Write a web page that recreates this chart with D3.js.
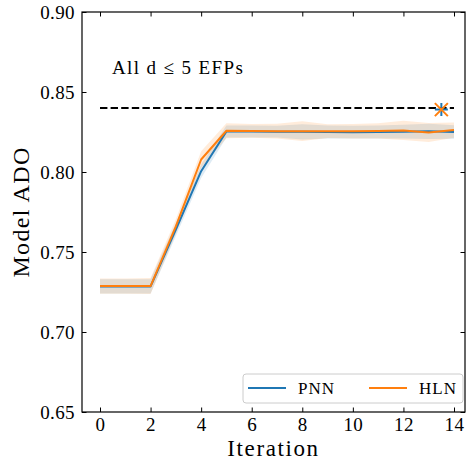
<!DOCTYPE html>
<html>
<head>
<meta charset="utf-8">
<script src="https://cdn.jsdelivr.net/npm/d3@7"></script>
<style>
  html, body { margin: 0; padding: 0; background: #fff; }
  svg { display: block; }
  svg text { font-family: "Liberation Serif", serif; fill: #000; }
</style>
</head>
<body>
<svg id="chart" width="468" height="461"></svg>
<script>
// ---- data ----
const iterations = [0,1,2,3,4,5,6,7,8,9,10,11,12,13,14];
const pnnMean = [0.7285,0.7285,0.7285,0.7640,0.8005,0.8253,0.8253,0.8252,0.8251,0.8250,0.8249,0.8250,0.8252,0.8254,0.8250];
const pnnStd  = [0.0045,0.0045,0.0045,0.0040,0.0042,0.0038,0.0037,0.0037,0.0048,0.0040,0.0040,0.0040,0.0043,0.0048,0.0042];
const hlnMean = [0.7287,0.7287,0.7287,0.7660,0.8078,0.8258,0.8257,0.8255,0.8255,0.8255,0.8255,0.8257,0.8260,0.8247,0.8262];
const hlnStd  = [0.0048,0.0048,0.0050,0.0045,0.0052,0.0047,0.0043,0.0046,0.0062,0.0043,0.0045,0.0048,0.0060,0.0060,0.0048];
const seriesNames = ["PNN", "HLN"];
const seriesColors = ["#1f77b4", "#ff7f0e"];
const refValue = 0.84;
const refRange = [0, 14];
const bestPoint = { x: 13.5, y: 0.839 };
const xTicks = [0,2,4,6,8,10,12,14];
const yTicks = [0.65,0.70,0.75,0.80,0.85,0.90];
const annotation = "All d \u2264 5 EFPs";
const xLabel = "Iteration";
const yLabel = "Model ADO";

// ---- layout ----
const L = 82, R = 465, T = 12, B = 412;
const FONT = "'Liberation Serif', serif";
const svg = d3.select("#chart");
const x = d3.scaleLinear().domain([-0.712, 14.435]).range([L, R]);
const y = d3.scaleLinear().domain([0.65, 0.90]).range([B, T]);

const series = [
  { name: seriesNames[0], color: seriesColors[0], mean: pnnMean, std: pnnStd },
  { name: seriesNames[1], color: seriesColors[1], mean: hlnMean, std: hlnStd }
];

const g = svg.append("g");
const area = d3.area()
  .x((d, i) => x(iterations[i]))
  .y0(d => y(d[0] - d[1]))
  .y1(d => y(d[0] + d[1]));
const line = d3.line()
  .x((d, i) => x(iterations[i]))
  .y(d => y(d));

series.forEach(s => {
  const pts = s.mean.map((m, i) => [m, s.std[i]]);
  g.append("path").attr("d", area(pts))
    .attr("fill", s.color).attr("fill-opacity", 0.15).attr("stroke", "none");
});
series.forEach(s => {
  g.append("path").attr("d", line(s.mean))
    .attr("fill", "none").attr("stroke", s.color).attr("stroke-width", 2)
    .attr("stroke-linejoin", "round");
});

// reference dashed line
g.append("line")
  .attr("x1", x(refRange[0])).attr("x2", x(refRange[1]))
  .attr("y1", y(refValue)).attr("y2", y(refValue))
  .attr("stroke", "#000").attr("stroke-width", 2)
  .attr("stroke-dasharray", "7.4,3.2");

// markers: blue plus, orange x
const bx = x(bestPoint.x), by = y(bestPoint.y);
const pr = 6.5;
g.append("path")
  .attr("d", `M${bx - pr},${by}H${bx + pr}M${bx},${by - pr}V${by + pr}`)
  .attr("stroke", seriesColors[0]).attr("stroke-width", 2).attr("fill", "none");
const xr = 6.5;
g.append("path")
  .attr("d", `M${bx - xr},${by - xr}L${bx + xr},${by + xr}M${bx - xr},${by + xr}L${bx + xr},${by - xr}`)
  .attr("stroke", seriesColors[1]).attr("stroke-width", 2).attr("fill", "none");

// annotation
svg.append("text")
  .attr("x", x(0.47)).attr("y", y(0.861))
  .attr("font-family", FONT)
  .attr("font-size", 19).attr("letter-spacing", 1.4)
  .text(annotation);

// axes (ticks inward on all sides)
const tl = 4.5;
const axG = svg.append("g");
axG.append("g").attr("transform", `translate(0,${B})`)
  .call(d3.axisBottom(x).tickValues(xTicks).tickSizeInner(-tl).tickSizeOuter(0).tickPadding(5.5).tickFormat(d3.format("d")));
axG.append("g").attr("transform", `translate(0,${T})`)
  .call(d3.axisTop(x).tickValues(xTicks).tickSizeInner(-tl).tickSizeOuter(0).tickFormat(""));
axG.append("g").attr("transform", `translate(${L},0)`)
  .call(d3.axisLeft(y).tickValues(yTicks).tickSizeInner(-tl).tickSizeOuter(0).tickPadding(7).tickFormat(d3.format(".2f")));
axG.append("g").attr("transform", `translate(${R},0)`)
  .call(d3.axisRight(y).tickValues(yTicks).tickSizeInner(-tl).tickSizeOuter(0).tickFormat(""));
axG.selectAll("g").attr("font-family", FONT).attr("font-size", 19);
axG.selectAll(".domain").remove();
axG.selectAll(".tick line").attr("stroke", "#000").attr("stroke-width", 1);
axG.selectAll(".tick text")
  .attr("font-family", FONT)
  .attr("font-size", 19).attr("letter-spacing", 0.4).attr("fill", "#000");

// frame
svg.append("rect").attr("x", L).attr("y", T).attr("width", R - L).attr("height", B - T)
  .attr("fill", "none").attr("stroke", "#000").attr("stroke-width", 1.2);

// axis labels
svg.append("text")
  .attr("x", (L + R) / 2).attr("y", 456)
  .attr("font-family", FONT)
  .attr("text-anchor", "middle").attr("font-size", 23).attr("letter-spacing", 1.6)
  .text(xLabel);
svg.append("text")
  .attr("transform", `translate(29,${(T + B) / 2}) rotate(-90)`)
  .attr("font-family", FONT)
  .attr("text-anchor", "middle").attr("font-size", 24).attr("letter-spacing", 1.3)
  .text(yLabel);

// legend
const lg = svg.append("g");
lg.append("rect").attr("x", 243).attr("y", 374).attr("width", 220).attr("height", 29)
  .attr("rx", 3).attr("fill", "#fff").attr("fill-opacity", 0.8)
  .attr("stroke", "#ccc").attr("stroke-width", 1);
const legendX = [248, 369];
series.forEach((s, i) => {
  lg.append("line").attr("x1", legendX[i]).attr("x2", legendX[i] + 38)
    .attr("y1", 388).attr("y2", 388)
    .attr("stroke", s.color).attr("stroke-width", 2);
  lg.append("text").attr("x", legendX[i] + 50).attr("y", 394)
    .attr("font-family", FONT)
    .attr("font-size", 17).attr("letter-spacing", 1).text(s.name);
});
</script>
</body>
</html>
